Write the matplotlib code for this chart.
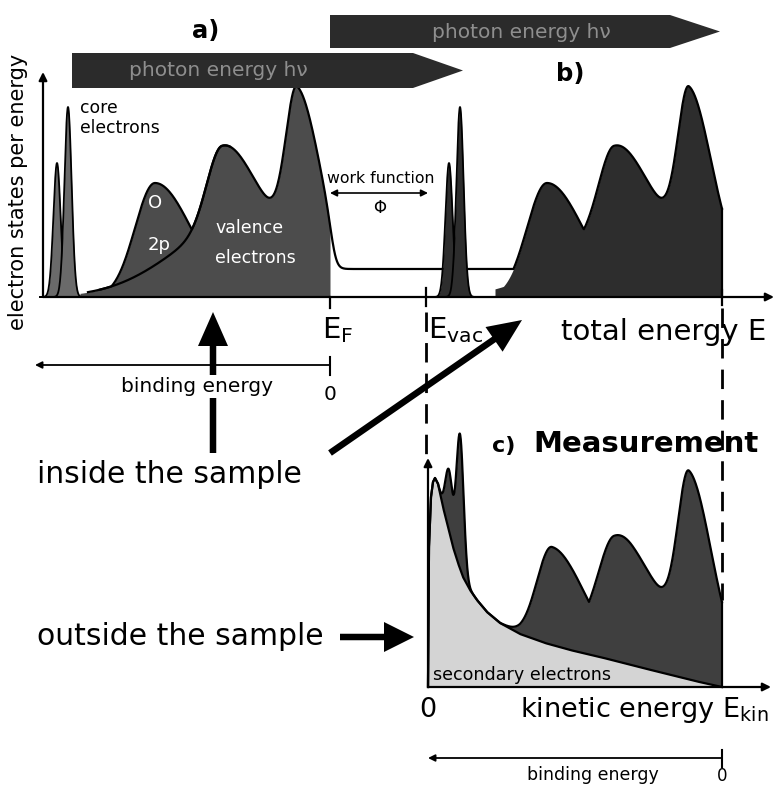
import numpy as np
import matplotlib
matplotlib.use("Agg")
import matplotlib.pyplot as plt
from matplotlib.patches import Polygon, FancyArrow

plt.rcParams["font.family"] = "DejaVu Sans"
plt.rcParams["mathtext.fontset"] = "dejavusans"

# energy scale is in drawing units; E_F / E_vac are the level positions in panel a)
E_F = 330
E_VAC = 426
HNU = 392            # photon energy: shifts the spectrum from a) to b)
E_F_B = E_F + HNU    # Fermi edge after excitation

# core levels (position, height, width)
core_pos = [57, 68]
core_height = [134, 190]
core_width = [3.6, 3.6]

# valence band: broad band, middle peak, top peak
val_pos = [240, 222, 297]
val_height = [75, 79, 149]
val_wl = [65, 15, 11]
val_wr = [80, 30, 22]

# O 2p band
o2p_pos = 155
o2p_height = 114
o2p_wl, o2p_wr = 20, 36

# free-electron continuum above E_F
cont_level = 28

# c) measured intensities
meas_core_height = [60, 134]
meas_val_scale = [0.85, 0.85, 1.05]
meas_val_wl = [40, 15, 11]
meas_o2p_pos = 160
meas_o2p_height = 98
meas_o2p_wl, meas_o2p_wr = 15, 33

# secondary electron background in c)
sec_x = [428, 429, 431, 433, 435, 438, 443, 448, 453, 458, 463, 470, 477, 487,
         500, 520, 545, 570, 600, 635, 667, 695, 722]
sec_h = [0, 140, 190, 205, 209, 203, 180, 160, 140, 124, 110, 97, 87, 75,
         64, 53, 44, 37, 30, 21, 13, 6, 0]


def peak(x, c, h, wl, wr=None):
    wr = wl if wr is None else wr
    w = np.where(x < c, wl, wr)
    return h * np.exp(-0.5 * ((x - c) / w) ** 2)


def valence(x, shift=0, scale=(1, 1, 1), wls=val_wl):
    return sum(s * peak(x, p + shift, h, wl, wr)
               for p, h, wl, wr, s in zip(val_pos, val_height, wls, val_wr, scale))


def fermi(x, ef):
    return 1.0 / (1.0 + np.exp((x - ef - 3) / 3.0))


fig = plt.figure(figsize=(7.75, 7.88), dpi=100)
ax = fig.add_axes([0, 0, 1, 1])
ax.set_xlim(0, 775)
ax.set_ylim(788, 0)
ax.axis("off")

Y0 = 297     # baseline a)/b)
YC = 687     # baseline c)
LW = 1.6
dark_a, dark_b, dark_c = "#4c4c4c", "#2d2d2d", "#3f3f3f"

# ---------- a) and b): states in the sample ----------
x = np.arange(40, 722.01, 0.5)
env_a = np.maximum(valence(x), peak(x, o2p_pos, o2p_height, o2p_wl, o2p_wr))
line_a = env_a * fermi(x, E_F) + cont_level * (1 - fermi(x, E_F))
env_b = np.maximum(valence(x, HNU), peak(x, o2p_pos + HNU, o2p_height, o2p_wl, o2p_wr))
line = np.maximum(line_a, env_b)

m = (x >= 80) & (x <= E_F)
ax.fill_between(x[m], Y0, Y0 - line_a[m], color=dark_a, lw=0, zorder=2)
m = x >= 495
ax.fill_between(x[m], Y0, Y0 - env_b[m], color=dark_b, lw=0, zorder=2)

m = x >= 88
ax.plot(x[m], Y0 - line[m], color="k", lw=LW, zorder=3)
ax.plot([E_F_B, E_F_B], [Y0, Y0 - line[-1]], color="k", lw=LW, zorder=3)
m = (x >= 100) & (x <= 230)
ax.plot(x[m], Y0 - valence(x[m]), color="k", lw=LW, zorder=3)

# core levels before and after excitation
xc = np.arange(40, 90, 0.25)
for shift, col in [(0, "#6a6a6a"), (HNU, dark_b)]:
    for p, h, w in zip(core_pos, core_height, core_width):
        yy = peak(xc + shift, p + shift, h, w)
        ax.fill_between(xc + shift, Y0, Y0 - yy, color=col, lw=0, zorder=4)
        ax.plot(xc + shift, Y0 - yy, color="k", lw=1.3, zorder=4)

# axes of a)/b)
arrow_kw = dict(arrowstyle="-|>", lw=LW, color="k", mutation_scale=12, shrinkA=0, shrinkB=0)
ax.annotate("", xy=(43, 72), xytext=(43, Y0), arrowprops=arrow_kw, zorder=5)
ax.annotate("", xy=(774, Y0), xytext=(43, Y0), arrowprops=arrow_kw, zorder=5)
ax.plot([E_F, E_F], [Y0, 308], color="k", lw=LW)
ax.plot([E_VAC, E_VAC], [288, 306], color="k", lw=LW)
ax.plot([E_F_B, E_F_B], [290, 305], color="k", lw=LW)

# photon energy bars
for xs, xe, yt, yb in [(330, 670, 15, 48), (72, 413, 53, 88)]:
    ym = (yt + yb) / 2
    ax.add_patch(Polygon([(xs, yt), (xe, yt), (xe + 50, ym), (xe, yb), (xs, yb)],
                         closed=True, fc="#2b2b2b", ec="none", zorder=6))
ax.text(521, 32, "photon energy h\u03bd", color="#8e8e8e", fontsize=14.5,
        ha="center", va="center", zorder=7)
ax.text(218, 70, "photon energy h\u03bd", color="#8e8e8e", fontsize=14.5,
        ha="center", va="center", zorder=7)

# work function
ax.annotate("", xy=(330, 193), xytext=(428, 193),
            arrowprops=dict(arrowstyle="<|-|>", lw=1.2, color="k", mutation_scale=10,
                            shrinkA=0, shrinkB=0))
ax.text(381, 183, "work function", fontsize=11.3, ha="center", va="baseline")
ax.text(380, 208, "\u03a6", fontsize=12, ha="center", va="center")

# labels of a)/b)
ax.text(206, 38, "a)", fontsize=17.5, weight="bold", ha="center", va="baseline")
ax.text(570, 81, "b)", fontsize=17.5, weight="bold", ha="center", va="baseline")
ax.text(18, 192, "electron states per energy", fontsize=15, rotation=90,
        ha="center", va="center")
ax.text(80, 113, "core", fontsize=12.4, va="baseline")
ax.text(80, 133, "electrons", fontsize=12.4, va="baseline")
ax.text(155, 208, "O", fontsize=13, color="white", ha="center", va="baseline", zorder=5)
ax.text(148, 250, "2p", fontsize=13, color="white", va="baseline", zorder=5)
ax.text(215, 233, "valence", fontsize=12.5, color="white", va="baseline", zorder=5)
ax.text(215, 263, "electrons", fontsize=12.5, color="white", va="baseline", zorder=5)
ax.text(322, 338, r"E$_{\mathrm{F}}$", fontsize=21, va="baseline")
ax.text(428, 338, r"E$_{\mathrm{vac}}$", fontsize=21, va="baseline")
ax.text(766, 340, "total energy E", fontsize=21, ha="right", va="baseline")

# binding energy scale under a)
ax.annotate("", xy=(35, 365), xytext=(E_F, 365),
            arrowprops=dict(arrowstyle="-|>", lw=1.3, color="k", mutation_scale=10,
                            shrinkA=0, shrinkB=0))
ax.plot([E_F, E_F], [357, 375], color="k", lw=1.5)
ax.text(330, 400, "0", fontsize=14.5, ha="center", va="baseline")

# excitation arrows
ax.add_patch(FancyArrow(213, 453, 0, -141, width=6.5, head_width=30, head_length=34,
                        length_includes_head=True, color="k", lw=0, zorder=4))
ax.text(197, 392, "binding energy", fontsize=14.5, ha="center", va="baseline", zorder=5,
        bbox=dict(fc="white", ec="none", pad=1.5))
ax.add_patch(FancyArrow(330, 453, 192, -133, width=6.5, head_width=30, head_length=34,
                        length_includes_head=True, color="k", lw=0, zorder=4))
ax.add_patch(FancyArrow(340, 637, 74, 0, width=6.5, head_width=30, head_length=30,
                        length_includes_head=True, color="k", lw=0, zorder=4))
ax.text(37, 483, "inside the sample", fontsize=21.5, va="baseline")
ax.text(37, 645, "outside the sample", fontsize=21.5, va="baseline")

# dashed guides
ax.plot([E_VAC, E_VAC], [312, 458], color="k", lw=2, ls=(0, (7, 4)))
ax.plot([E_F_B, E_F_B], [308, 600], color="k", lw=2, ls=(0, (7, 4)))

# ---------- c) measured spectrum ----------
xm = np.arange(428, 722.01, 0.25)
sec = np.interp(xm, sec_x, sec_h)
meas = np.maximum(valence(xm, HNU, meas_val_scale, meas_val_wl),
                  peak(xm, meas_o2p_pos + HNU, meas_o2p_height, meas_o2p_wl, meas_o2p_wr))
cores = sum(peak(xm, p + HNU, h, w)
            for p, h, w in zip(core_pos, meas_core_height, core_width))
total = sec + meas + cores

ax.fill_between(xm, YC, YC - sec, color="#d4d4d4", lw=0, zorder=2)
ax.fill_between(xm, YC - sec, YC - total, color=dark_c, lw=0, zorder=2)
ax.plot(xm, YC - total, color="k", lw=LW, zorder=3)
ax.plot(xm, YC - sec, color="k", lw=LW, zorder=3)
ax.plot([E_F_B, E_F_B], [YC, YC - total[-1]], color="k", lw=LW, zorder=3)

ax.annotate("", xy=(428, 458), xytext=(428, YC), arrowprops=arrow_kw, zorder=5)
ax.annotate("", xy=(771, YC), xytext=(428, YC), arrowprops=arrow_kw, zorder=5)

ax.text(504, 452, "c)", fontsize=16, weight="bold", ha="center", va="baseline")
ax.text(646, 452, "Measurement", fontsize=21, weight="bold", ha="center", va="baseline")
ax.text(433, 680, "secondary electrons", fontsize=12.6, va="baseline", zorder=5)
ax.text(428, 717, "0", fontsize=19.5, ha="center", va="baseline")
ax.text(769, 717, r"kinetic energy E$_{\mathrm{kin}}$", fontsize=19.5, ha="right",
        va="baseline")

ax.annotate("", xy=(428, 758), xytext=(E_F_B, 758),
            arrowprops=dict(arrowstyle="-|>", lw=1.3, color="k", mutation_scale=10,
                            shrinkA=0, shrinkB=0))
ax.plot([E_F_B, E_F_B], [750, 767], color="k", lw=1.5)
ax.text(593, 780, "binding energy", fontsize=12.5, ha="center", va="baseline")
ax.text(E_F_B, 781, "0", fontsize=12, ha="center", va="baseline")

fig.savefig("out.png", dpi=100)
